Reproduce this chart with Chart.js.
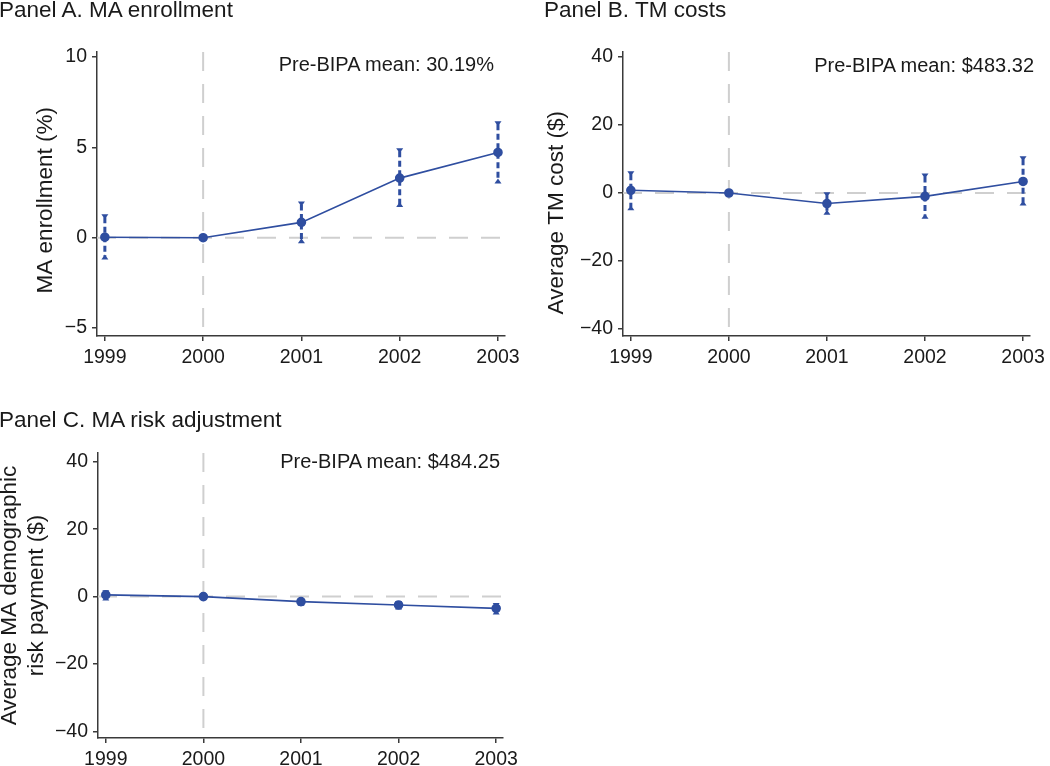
<!DOCTYPE html>
<html lang="en">
<head>
  <meta charset="UTF-8">
  <title>BIPA event study: MA enrollment, TM costs, MA risk adjustment</title>
  <script src="https://cdn.jsdelivr.net/npm/chart.js"></script>
  <style>
    body { margin: 0; background: #fff; font-family: "Liberation Sans", Arial, sans-serif; color: #1a1a1a; }
    #wrap { position: relative; width: 1050px; height: 766px; overflow: hidden; }
    canvas { position: absolute; }
    .ptitle { position: absolute; font-size: 22.5px; line-height: 22px; white-space: nowrap; }
    .note { position: absolute; font-size: 20px; line-height: 20px; white-space: nowrap; }
  </style>
</head>
<body>
<div id="wrap">
  <canvas id="chartA" width="525" height="383" style="left:0;top:0"></canvas>
  <canvas id="chartB" width="525" height="383" style="left:525px;top:0"></canvas>
  <canvas id="chartC" width="525" height="366" style="left:0;top:400px"></canvas>

  <div class="ptitle" style="left:-1px;top:-1px">Panel A. MA enrollment</div>
  <div class="ptitle" style="left:544px;top:-1px">Panel B. TM costs</div>
  <div class="ptitle" style="left:-1px;top:409px">Panel C. MA risk adjustment</div>

  <div class="note" style="right:556px;top:54px">Pre-BIPA mean: 30.19%</div>
  <div class="note" style="right:16px;top:55px">Pre-BIPA mean: $483.32</div>
  <div class="note" style="right:550px;top:451px">Pre-BIPA mean: $484.25</div>
</div>

<script>
  // years relative to BIPA (2000 is the omitted reference year)
  const years = [1999, 2000, 2001, 2002, 2003];
  const eventYear = 2000;

  // Panel A: MA enrollment (%)
  const enrollEst = [0.03, 0, 0.85, 3.3, 4.72];
  const enrollLo  = [-1.2, null, -0.3, 1.7, 3.0];
  const enrollHi  = [1.3, null, 2.0, 4.95, 6.45];
  const enrollTicks = [-5, 0, 5, 10];

  // Panel B: average TM cost ($)
  const costEst = [0.8, 0, -3.1, -1.0, 3.4];
  const costLo  = [-5.1, null, -6.4, -7.6, -3.7];
  const costHi  = [6.4, null, 0.2, 5.7, 10.8];

  // Panel C: average MA demographic risk payment ($)
  const riskEst = [0.5, 0, -1.5, -2.5, -3.5];
  const riskLo  = [-1.2, null, -2.7, -3.8, -5.3];
  const riskHi  = [1.9, null, -0.4, -1.3, -1.9];

  const dollarTicks = [-40, -20, 0, 20, 40];

  const blue = '#2f4ea0';
  const refCol = '#cfcfcf';
  const axisCol = '#3a3a3a';
  const textCol = '#1a1a1a';

  Chart.defaults.font.family = '"Liberation Sans", Arial, sans-serif';
  Chart.defaults.color = textCol;

  const fmtY = v => v < 0 ? '\u2212' + (-v) : String(v);

  // dashed reference lines + dashed CI whiskers with little triangle caps
  function overlay(lo, hi) {
    return {
      id: 'overlay',
      beforeDatasetsDraw(chart) {
        const { ctx, chartArea: a, scales: { x, y } } = chart;
        ctx.save();
        ctx.strokeStyle = refCol;
        ctx.lineWidth = 2;
        ctx.setLineDash([19, 13]);
        const ex = x.getPixelForValue(eventYear);
        ctx.beginPath(); ctx.moveTo(ex, a.top); ctx.lineTo(ex, a.bottom); ctx.stroke();
        const zy = y.getPixelForValue(0);
        ctx.beginPath(); ctx.moveTo(a.left, zy); ctx.lineTo(a.right, zy); ctx.stroke();

        ctx.strokeStyle = blue;
        ctx.fillStyle = blue;
        ctx.lineWidth = 3;
        ctx.setLineDash([6, 3.5]);
        years.forEach((yr, i) => {
          if (lo[i] == null) return;
          const px = x.getPixelForValue(yr);
          const yl = y.getPixelForValue(lo[i]);
          const yh = y.getPixelForValue(hi[i]);
          ctx.beginPath(); ctx.moveTo(px, yh + 3); ctx.lineTo(px, yl - 3); ctx.stroke();
          ctx.beginPath();
          ctx.moveTo(px - 3.5, yh); ctx.lineTo(px + 3.5, yh); ctx.lineTo(px, yh + 5); ctx.closePath();
          ctx.fill();
          ctx.beginPath();
          ctx.moveTo(px - 3.5, yl); ctx.lineTo(px + 3.5, yl); ctx.lineTo(px, yl - 5); ctx.closePath();
          ctx.fill();
        });
        ctx.restore();
      }
    };
  }

  function makePanel(id, o) {
    new Chart(document.getElementById(id), {
      type: 'line',
      data: {
        datasets: [{
          data: years.map((yr, i) => ({ x: yr, y: o.est[i] })),
          borderColor: blue,
          backgroundColor: blue,
          borderWidth: 1.6,
          pointRadius: 4,
          pointHoverRadius: 4,
          tension: 0
        }]
      },
      options: {
        responsive: false,
        animation: false,
        events: [],
        layout: { padding: { left: 0, right: o.padR, top: o.padT, bottom: 0 } },
        plugins: { legend: { display: false }, tooltip: { enabled: false } },
        scales: {
          x: {
            type: 'linear',
            min: 1998.92,
            max: 2003.07,
            afterBuildTicks: s => { s.ticks = years.map(v => ({ value: v })); },
            afterFit: s => { s.height = o.xH; },
            grid: { drawOnChartArea: false, tickLength: 5, color: axisCol, lineWidth: 1.5 },
            border: { color: axisCol, width: 1.5 },
            ticks: { font: { size: 19.5 }, color: textCol, padding: 5, maxRotation: 0, autoSkip: false, callback: v => String(v) }
          },
          y: {
            min: o.yMin,
            max: o.yMax,
            afterBuildTicks: s => { s.ticks = o.ticks.map(v => ({ value: v })); },
            afterFit: s => { s.width = o.yW; },
            grid: { drawOnChartArea: false, tickLength: 5, color: axisCol, lineWidth: 1.5 },
            border: { color: axisCol, width: 1.5 },
            ticks: { font: { size: 19.5 }, color: textCol, padding: 5, autoSkip: false, callback: fmtY },
            title: {
              display: true,
              text: o.title,
              color: textCol,
              font: { size: 22.5, lineHeight: 1.2 },
              padding: { top: o.titlePad, bottom: 0 }
            }
          }
        }
      },
      plugins: [overlay(o.lo, o.hi)]
    });
  }

  // trailing spaces nudge the rotated titles down a bit, like the original
  makePanel('chartA', {
    est: enrollEst, lo: enrollLo, hi: enrollHi, ticks: enrollTicks,
    yMin: -5.44, yMax: 10.28, yW: 97, xH: 47, padR: 20, padT: 52,
    title: 'MA enrollment (%)  ', titlePad: 32.5
  });

  makePanel('chartB', {
    est: costEst, lo: costLo, hi: costHi, ticks: dollarTicks,
    yMin: -42.06, yMax: 41.47, yW: 98, xH: 47, padR: 15, padT: 52,
    title: 'Average TM cost ($)      ', titlePad: 18.5
  });

  makePanel('chartC', {
    est: riskEst, lo: riskLo, hi: riskHi, ticks: dollarTicks,
    yMin: -41.96, yMax: 42.6, yW: 98, xH: 28, padR: 22, padT: 53,
    title: ['Average MA demographic', 'risk payment ($)'], titlePad: -3.5
  });
</script>
</body>
</html>
